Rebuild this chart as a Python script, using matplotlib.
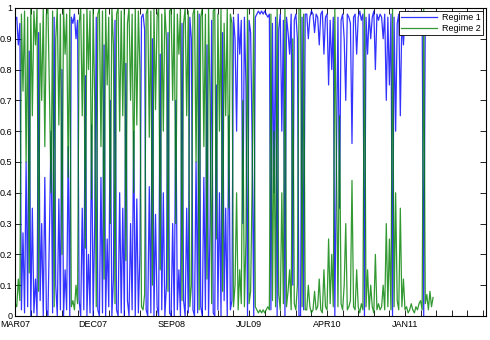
import numpy as np
import matplotlib
matplotlib.use('Agg')
import matplotlib.pyplot as plt

# smoothed regime probabilities (one value per sample)
regime1 = [0.96, 0.97, 0.88, 0.95,
           0.02, 0.27, 0.01, 0.5, 0.03, 0.86, 0.0,
           0.35, 0.01, 0.12, 0.0, 0.92, 0.05, 0.3, 0.0, 0.45, 0.02,
           0.0, 0.28, 0.6, 0.01, 0.97, 0.1, 0.0, 0.38, 0.02, 0.8,
           0.0, 0.15, 0.02, 0.55, 0.0, 0.97, 0.95, 0.98, 0.9, 0.96,
           0.05, 0.0, 0.35, 0.02, 0.78, 0.0, 0.2, 0.01, 0.62, 0.0,
           0.3, 0.97, 0.02, 0.0, 0.45, 0.01, 0.88, 0.0, 0.25, 0.03,
           0.7, 0.0, 0.12, 0.96, 0.02, 0.0, 0.4, 0.01, 0.35, 0.0,
           0.82, 0.05, 0.0, 0.3, 0.02, 0.6, 0.0, 0.38, 0.01, 0.2,
           0.97, 0.98, 0.93, 0.02, 0.0, 0.42, 0.01, 0.9, 0.0, 0.33,
           0.03, 0.0, 0.85, 0.02, 0.4, 0.0, 0.1, 0.92, 0.01, 0.0,
           0.3, 0.0, 0.7, 0.02, 0.15, 0.0, 0.95, 0.05, 0.0, 0.35,
           0.01, 0.97, 0.9, 0.02, 0.0, 0.5, 0.01, 0.98, 0.03, 0.0,
           0.45, 0.02, 0.88, 0.0, 0.3, 0.96, 0.01, 0.0, 0.75, 0.02,
           0.4, 0.0, 0.92, 0.05, 0.35, 0.0, 0.65, 0.02,
           0.05, 0.97, 0.9, 0.6, 0.98, 0.85, 0.96, 0.3, 0.97, 0.75, 0.0, 0.96,
           0.92, 0.55, 0.0, 0.97, 0.98, 0.99, 0.98, 0.99, 0.98, 0.99,
           0.98, 0.97, 0.98, 0.02, 0.95, 0.4, 0.97, 0.0, 0.93, 0.98,
           0.6, 0.96, 0.0, 0.97, 0.92, 0.85, 0.98, 0.1, 0.96, 0.98, 0.9, 0.0, 0.0,
           0.97, 0.02, 0.98,
           0.98, 0.9, 0.97, 0.99, 0.98, 0.92, 0.98, 0.97, 0.88,
           0.98, 0.99, 0.85, 0.97, 0.98, 0.75, 0.96, 0.8, 0.97,
           0.0, 0.5, 0.97, 0.35, 0.96, 0.98, 0.9, 0.7, 0.98, 0.97, 0.95,
           0.56, 0.97, 0.98, 0.85, 0.97, 0.99, 0.96, 0.98,
           0.0,
           0.97, 0.85, 0.98, 0.9, 0.97, 0.99, 0.8, 0.98, 0.96, 0.98, 0.97, 0.9, 0.98, 0.7,
           0.97, 0.75, 0.98,
           0.0,
           0.97, 0.6, 0.95, 0.98, 0.65, 0.97, 0.88, 0.98, 0.97, 0.99, 0.98, 0.96, 0.98, 0.99,
           0.97, 0.98, 0.96, 0.95, 0.98,
           0.0,
           0.96, 0.93, 0.98, 0.92, 0.97, 0.94]

regime2 = [0.04, 0.03, 0.12, 0.05,
           0.98, 0.73, 0.99, 0.5, 0.97, 0.14, 1.0,
           0.65, 0.99, 0.88, 1.0, 0.08, 0.95, 0.7, 1.0, 0.55, 0.98,
           1.0, 0.72, 0.4, 0.99, 0.03, 0.9, 1.0, 0.62, 0.98, 0.2,
           1.0, 0.85, 0.98, 0.45, 1.0, 0.03, 0.05, 0.02, 0.1, 0.04,
           0.95, 1.0, 0.65, 0.98, 0.22, 1.0, 0.8, 0.99, 0.38, 1.0,
           0.7, 0.03, 0.98, 1.0, 0.55, 0.99, 0.12, 1.0, 0.75, 0.97,
           0.3, 1.0, 0.88, 0.04, 0.98, 1.0, 0.6, 0.99, 0.65, 1.0,
           0.18, 0.95, 1.0, 0.7, 0.98, 0.4, 1.0, 0.62, 0.99, 0.8,
           0.03, 0.02, 0.07, 0.98, 1.0, 0.58, 0.99, 0.1, 1.0, 0.67,
           0.97, 1.0, 0.15, 0.98, 0.6, 1.0, 0.9, 0.08, 0.99, 1.0,
           0.7, 1.0, 0.3, 0.98, 0.85, 1.0, 0.05, 0.95, 1.0, 0.65,
           0.99, 0.03, 0.1, 0.98, 1.0, 0.5, 0.99, 0.02, 0.97, 1.0,
           0.55, 0.98, 0.12, 1.0, 0.7, 0.04, 0.99, 1.0, 0.25, 0.98,
           0.6, 1.0, 0.08, 0.95, 0.65, 1.0, 0.35, 0.98,
           0.95, 0.03, 0.1, 0.4, 0.02, 0.15, 0.04, 0.7, 0.03, 0.25, 1.0, 0.04,
           0.08, 0.45, 1.0, 0.03, 0.02, 0.01, 0.02, 0.01, 0.02, 0.01,
           0.02, 0.03, 0.02, 0.98, 0.05, 0.6, 0.03, 1.0, 0.07, 0.02,
           0.4, 0.04, 1.0, 0.03, 0.08, 0.15, 0.02, 0.9, 0.04, 0.02, 0.1, 1.0, 1.0,
           0.03, 0.98, 0.02,
           0.02, 0.1, 0.03, 0.01, 0.02, 0.08, 0.02, 0.03, 0.12,
           0.02, 0.01, 0.15, 0.03, 0.02, 0.25, 0.04, 0.2, 0.03,
           1.0, 0.5, 0.03, 0.65, 0.04, 0.02, 0.1, 0.3, 0.02, 0.03, 0.05,
           0.44, 0.03, 0.02, 0.15, 0.03, 0.01, 0.04, 0.02,
           1.0,
           0.03, 0.15, 0.02, 0.1, 0.03, 0.01, 0.2, 0.02, 0.04, 0.02, 0.03, 0.1, 0.02, 0.3,
           0.03, 0.25, 0.02,
           1.0,
           0.03, 0.4, 0.05, 0.02, 0.35, 0.03, 0.12, 0.02, 0.03, 0.01, 0.02, 0.04, 0.02, 0.01,
           0.03, 0.02, 0.04, 0.05, 0.02,
           1.0,
           0.04, 0.07, 0.02, 0.08, 0.03, 0.06]

# tick every 10 samples, a date label every 50
tick_labels = ['MAR07', 'DEC07', 'SEP08', 'JUL09', 'APR10', 'JAN11']
label_step = 50
tick_step = 10
x_max = 302

plt.rcParams['font.family'] = ['Liberation Sans', 'DejaVu Sans']
plt.rcParams['font.size'] = 6.5

fig = plt.figure(figsize=(4.9, 3.4), dpi=100)
ax = fig.add_axes([0.031, 0.0706, 0.961, 0.906])

x = np.arange(len(regime1))
ax.plot(x, regime1, color='#0000ff', lw=0.9, alpha=0.8, label='Regime 1')
ax.plot(x, regime2, color='#008000', lw=0.9, alpha=0.8, label='Regime 2')

ax.set_xlim(0, x_max)
ax.set_ylim(0, 1)

ticks = np.arange(0, x_max, tick_step)
ax.set_xticks(ticks)
labels = [''] * len(ticks)
for k, lab in enumerate(tick_labels):
    labels[k * label_step // tick_step] = lab
ax.set_xticklabels(labels)
ax.set_yticks(np.arange(0, 1.01, 0.1))
ax.set_yticklabels(['0', '0.1', '0.2', '0.3', '0.4', '0.5', '0.6', '0.7', '0.8', '0.9', '1'])
ax.tick_params(direction='in', top=True, right=True, length=4, width=0.6)
ax.tick_params(axis='x', pad=3)
ax.tick_params(axis='y', pad=2)
for s in ax.spines.values():
    s.set_linewidth(0.8)

leg = ax.legend(loc='upper right', fontsize=6.5, fancybox=False, framealpha=1,
                edgecolor='black', handlelength=4, borderaxespad=0.3,
                labelspacing=0.15, borderpad=0.3, handletextpad=0.5)
leg.get_frame().set_linewidth(0.6)

fig.savefig('out.png', dpi=100)
